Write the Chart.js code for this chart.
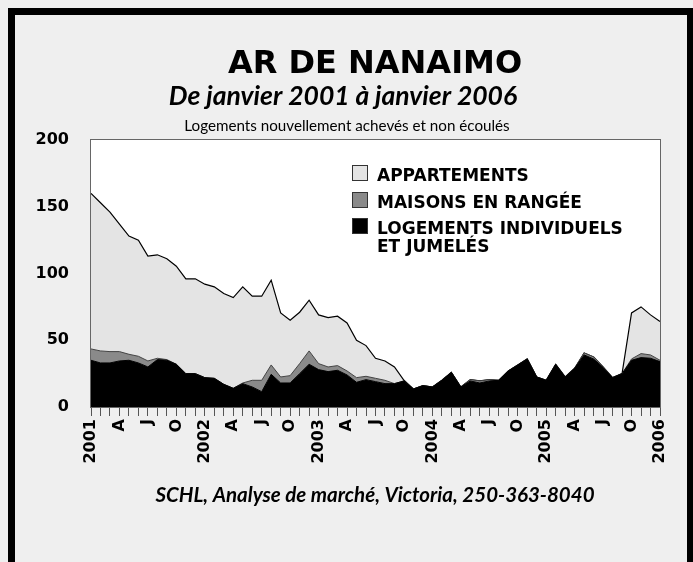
<!DOCTYPE html>
<html>
<head>
<meta charset="utf-8">
<script src="https://cdn.jsdelivr.net/npm/chart.js@4"></script>
<style>
  html, body { margin: 0; padding: 0; background: #efefef; }
  canvas { display: block; }
</style>
</head>
<body>
<canvas id="nanaimoChart" width="693" height="562"></canvas>
<script>
// Mois de janvier 2001 à janvier 2006 (61 points)
const tickLabels = [
  '2001', '', '', 'A', '', '', 'J', '', '', 'O', '', '',
  '2002', '', '', 'A', '', '', 'J', '', '', 'O', '', '',
  '2003', '', '', 'A', '', '', 'J', '', '', 'O', '', '',
  '2004', '', '', 'A', '', '', 'J', '', '', 'O', '', '',
  '2005', '', '', 'A', '', '', 'J', '', '', 'O', '', '',
  '2006'
];

const individuels = [
  35, 33, 33, 34.5, 35, 33, 30, 35.5, 35, 32, 25, 25,
  22, 21.5, 17, 14, 17.5, 15, 11.5, 24.5, 18, 18, 25, 32,
  28, 26.5, 27.5, 24, 18.5, 20.5, 19, 17.5, 17.5, 19.5, 13.5, 16,
  15, 20, 26, 15, 19.5, 18, 19.5, 20, 27, 31.5, 36, 22.5,
  20, 32, 22.5, 29, 39, 36, 29.5, 22, 25, 35, 37, 36.5,
  34
];

const rangees = [
  8.5, 9, 8.5, 7, 4.5, 5, 4.5, 1, 0.5, 0, 0, 0,
  0, 0, 0, 0, 0.5, 5, 8.5, 7, 4.5, 5.5, 7.5, 10,
  4.5, 3.5, 3.5, 3, 3.5, 2.5, 2.5, 2.5, 0, 0, 0, 0,
  0, 0, 0, 0, 1, 1.5, 1, 0, 0, 0, 0, 0,
  0, 0, 0, 0, 1.5, 1.5, 0.5, 0, 0, 1, 3, 2.5,
  1
];

const appartements = [
  116.5, 111, 104.5, 95.5, 88.5, 87, 78.5, 77.5, 75.5, 73.5, 71, 71,
  70, 68.5, 68, 68, 72, 63, 63, 63.5, 48, 41.5, 38.5, 38,
  36.5, 37, 37, 36, 28, 23, 15, 14.5, 12.5, 0.5, 0, 0,
  0, 0, 0, 0, 0, 0, 0, 0, 0, 0, 0, 0,
  0, 0, 0, 0, 0, 0, 0, 0, 0, 34.5, 35, 30,
  29
];

const legendItems = [
  { lines: ['APPARTEMENTS'], fill: '#e4e4e4' },
  { lines: ['MAISONS EN RANGÉE'], fill: '#8a8a8a' },
  { lines: ['LOGEMENTS INDIVIDUELS', 'ET JUMELÉS'], fill: '#000000' }
];

const BOLD = '"DejaVu Sans", sans-serif';
const HUMAN = 'Lato, "Open Sans", sans-serif';

// Fond, cadre et titres
const framePlugin = {
  id: 'frame',
  beforeDraw(chart) {
    const ctx = chart.ctx;
    const area = chart.chartArea;
    ctx.save();
    ctx.fillStyle = '#efefef';
    ctx.fillRect(0, 0, chart.width, chart.height);
    ctx.strokeStyle = '#000';
    ctx.lineWidth = 7;
    ctx.strokeRect(11.5, 11.5, 679, 600);

    ctx.fillStyle = '#fff';
    ctx.fillRect(area.left, area.top, area.right - area.left, area.bottom - area.top);

    ctx.fillStyle = '#000';
    ctx.textAlign = 'center';
    ctx.textBaseline = 'alphabetic';
    ctx.font = 'bold 32px ' + BOLD;
    ctx.fillText('AR DE NANAIMO', 375, 73);
    ctx.font = 'italic bold 26.5px ' + HUMAN;
    ctx.fillText('De janvier 2001 à janvier 2006', 343, 105);
    ctx.font = '15.2px ' + HUMAN;
    ctx.fillText('Logements nouvellement achevés et non écoulés', 347, 131);
    ctx.font = 'italic bold 20.5px ' + HUMAN;
    ctx.fillText('SCHL, Analyse de marché, Victoria, 250-363-8040', 375, 502);
    ctx.restore();
  },
  afterDatasetsDraw(chart) {
    const ctx = chart.ctx;
    const area = chart.chartArea;
    ctx.save();
    ctx.strokeStyle = '#666';
    ctx.lineWidth = 1;
    ctx.strokeRect(area.left - 0.5, area.top - 0.5, area.right - area.left + 1, area.bottom - area.top + 1);
    ctx.restore();
  },
  afterDraw(chart) {
    const ctx = chart.ctx;
    ctx.save();
    ctx.textAlign = 'left';
    ctx.textBaseline = 'alphabetic';
    ctx.font = 'bold 17px ' + BOLD;
    const rowsTop = [165, 192, 218];
    legendItems.forEach((item, i) => {
      const y = rowsTop[i];
      ctx.fillStyle = item.fill;
      ctx.fillRect(352, y, 16, 16);
      ctx.strokeStyle = '#333';
      ctx.lineWidth = 1;
      ctx.strokeRect(352.5, y + 0.5, 15, 15);
      ctx.fillStyle = '#000';
      item.lines.forEach((line, j) => {
        ctx.fillText(line, 377, y + 16 + j * 18);
      });
    });
    ctx.restore();
  }
};

new Chart(document.getElementById('nanaimoChart'), {
  type: 'line',
  data: {
    labels: tickLabels,
    datasets: [
      {
        label: 'LOGEMENTS INDIVIDUELS ET JUMELÉS',
        data: individuels,
        backgroundColor: '#000',
        borderColor: '#000',
        borderWidth: 1,
        fill: 'origin'
      },
      {
        label: 'MAISONS EN RANGÉE',
        data: rangees,
        backgroundColor: '#8a8a8a',
        borderColor: '#444',
        borderWidth: 1,
        fill: '-1'
      },
      {
        label: 'APPARTEMENTS',
        data: appartements,
        backgroundColor: '#e4e4e4',
        borderColor: '#000',
        borderWidth: 1.2,
        fill: '-1'
      }
    ]
  },
  options: {
    responsive: false,
    animation: false,
    events: [],
    layout: { padding: { top: 140, right: 33, left: 0, bottom: 0 } },
    elements: {
      point: { radius: 0 },
      line: { tension: 0 }
    },
    plugins: {
      legend: { display: false },
      title: { display: false },
      tooltip: { enabled: false }
    },
    scales: {
      x: {
        offset: false,
        afterFit(scale) { scale.height = 155; },
        grid: {
          display: true,
          drawOnChartArea: false,
          drawTicks: true,
          tickLength: 9,
          color: '#555'
        },
        border: { display: false },
        ticks: {
          autoSkip: false,
          minRotation: 90,
          maxRotation: 90,
          padding: 3,
          color: '#000',
          font: { family: BOLD, weight: 'bold', size: 16 }
        }
      },
      y: {
        stacked: true,
        min: 0,
        max: 200,
        afterFit(scale) { scale.width = 91; },
        grid: { display: false },
        border: { display: false },
        ticks: {
          stepSize: 50,
          padding: 14,
          color: '#000',
          font: { family: BOLD, weight: 'bold', size: 16 }
        }
      }
    }
  },
  plugins: [framePlugin]
});
</script>
</body>
</html>
